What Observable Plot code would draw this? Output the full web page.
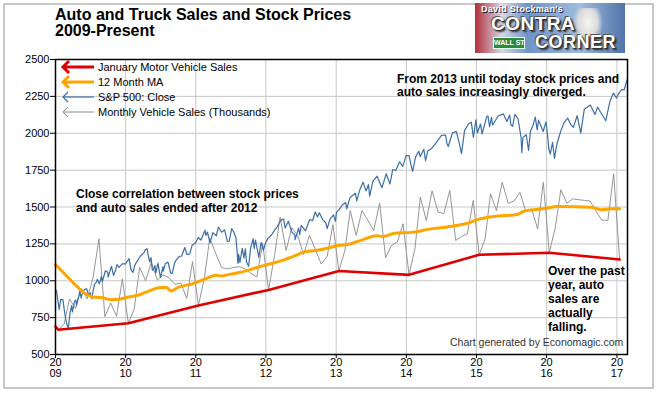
<!DOCTYPE html>
<html>
<head>
<meta charset="utf-8">
<script src="https://cdn.jsdelivr.net/npm/d3@7"></script>
<script src="https://cdn.jsdelivr.net/npm/@observablehq/plot@0.6"></script>
<style>
  html, body { margin: 0; padding: 0; background: #fff; }
  #wrap { position: relative; width: 657px; height: 393px; overflow: hidden; font-family: Arial, "Liberation Sans", sans-serif; }
  #border { position: absolute; left: 3px; top: 3px; width: 647px; height: 382px; border: 2px solid #c8c8c8; }
  #chart { position: absolute; left: 0; top: 0; }
  .abs { position: absolute; white-space: nowrap; }
  #title { left: 55px; top: 7px; font-weight: bold; font-size: 16px; line-height: 16px; color: #000; }
  .note { font-weight: bold; font-size: 12px; color: #000; }
  #logo { left: 475px; top: 3px; width: 150px; height: 50px; overflow: hidden;
          background: linear-gradient(90deg, #b0303a 0%, #d8d8e8 18%, #6f93c8 35%, #9fbce0 70%, #4f74a8 100%); }
  .big { font-weight: 900; color: #fff; text-shadow: 1px 1px 0 #333, -1px -1px 0 #555, 2px 2px 2px #222; letter-spacing: 0.5px; }
</style>
</head>
<body>
<div id="wrap">
  <div id="border"></div>
  <div id="chart"></div>
  <div id="title" class="abs">Auto and Truck Sales and Stock Prices<br>2009-Present</div>
  <div id="logo" class="abs">
    <div class="abs" style="left:98px;top:5px;width:30px;height:36px;background:radial-gradient(ellipse at 50% 40%, #f4f4f4 0%, #dcdcdc 45%, rgba(220,220,230,0) 70%);"></div>
    <div class="abs" style="left:6px;top:1px;font-size:9px;line-height:10px;font-weight:bold;color:#fff;text-shadow:1px 1px 0 #223;letter-spacing:0.3px;">David Stockman's</div>
    <div class="abs big" style="left:16px;top:12px;font-size:19px;line-height:18px;">CONTRA</div>
    <div class="abs" style="left:18px;top:34px;width:30px;height:10px;background:#2f8a3c;border:1px solid #dfe;color:#fff;font-size:7px;font-weight:bold;line-height:10px;text-align:center;">WALL ST</div>
    <div class="abs big" style="left:60px;top:31px;font-size:18px;line-height:17px;">CORNER</div>
  </div>
  <svg class="abs" id="legend" style="left:0;top:0;" width="657" height="393"></svg>
  <div class="abs" style="left:98px;top:60px;font-size:11px;line-height:15px;color:#000;">January Motor Vehicle Sales<br>12 Month MA<br>S&amp;P 500: Close<br>Monthly Vehicle Sales (Thousands)</div>
  <div class="abs note" style="left:397px;top:73px;line-height:13px;">From 2013 until today stock prices and<br>auto sales increasingly diverged.</div>
  <div class="abs note" style="left:76px;top:187px;line-height:14px;">Close correlation between stock prices<br>and auto sales ended after 2012</div>
  <div class="abs note" style="left:548px;top:264px;line-height:14px;">Over the past<br>year, auto<br>sales are<br>actually<br>falling.</div>
  <div class="abs" style="left:450px;top:336px;font-size:10.5px;line-height:12px;color:#333;">Chart generated by Economagic.com</div>
</div>
<script>
// ---- DATA ----
const yTicks = [500, 750, 1000, 1250, 1500, 1750, 2000, 2250, 2500];
const tickYears = [2009, 2010, 2011, 2012, 2013, 2014, 2015, 2016, 2017];

// S&P 500 close (sampled)
const spDates = [
"2009-01-02","2009-01-06","2009-01-20","2009-01-28","2009-02-09","2009-02-17","2009-02-23","2009-03-02","2009-03-09","2009-03-17","2009-03-26","2009-03-30","2009-04-09","2009-04-17","2009-04-20","2009-05-08","2009-05-15","2009-05-19","2009-06-01","2009-06-12","2009-06-23","2009-06-30","2009-07-08","2009-07-23","2009-07-31","2009-08-07","2009-08-17","2009-08-28","2009-09-02","2009-09-18","2009-09-30","2009-10-02","2009-10-19","2009-10-30","2009-11-09","2009-11-17","2009-11-27","2009-12-14","2009-12-31",
"2010-01-19","2010-01-29","2010-02-08","2010-02-19","2010-03-05","2010-03-18","2010-04-05","2010-04-14","2010-04-23","2010-04-27","2010-05-06","2010-05-13","2010-05-20","2010-05-25","2010-06-03","2010-06-07","2010-06-18","2010-06-30","2010-07-02","2010-07-14","2010-07-16","2010-07-26","2010-08-09","2010-08-24","2010-08-31","2010-09-13","2010-09-21","2010-10-08","2010-10-19","2010-11-05","2010-11-16","2010-11-30","2010-12-13","2010-12-31",
"2011-01-14","2011-01-28","2011-02-18","2011-02-23","2011-03-03","2011-03-16","2011-03-31","2011-04-18","2011-04-29","2011-05-16","2011-05-31","2011-06-15","2011-06-24","2011-07-07","2011-07-19","2011-07-29","2011-08-04","2011-08-08","2011-08-10","2011-08-12","2011-08-19","2011-08-31","2011-09-09","2011-09-16","2011-09-22","2011-10-03","2011-10-14","2011-10-27","2011-11-01","2011-11-08","2011-11-25","2011-12-07","2011-12-19","2011-12-30",
"2012-01-13","2012-01-31","2012-02-15","2012-02-29","2012-03-15","2012-03-26","2012-04-02","2012-04-10","2012-04-27","2012-05-15","2012-05-31","2012-06-01","2012-06-19","2012-06-25","2012-07-03","2012-07-25","2012-08-16","2012-08-31","2012-09-14","2012-09-26","2012-10-05","2012-10-23","2012-11-07","2012-11-15","2012-11-29","2012-12-18","2012-12-28",
"2013-01-02","2013-01-18","2013-02-01","2013-02-19","2013-02-25","2013-03-14","2013-04-11","2013-04-18","2013-05-03","2013-05-21","2013-06-05","2013-06-18","2013-06-24","2013-07-11","2013-08-02","2013-08-27","2013-09-18","2013-10-08","2013-10-22","2013-11-07","2013-11-27","2013-12-13","2013-12-31",
"2014-01-15","2014-01-24","2014-02-03","2014-02-18","2014-03-07","2014-03-14","2014-04-02","2014-04-11","2014-04-22","2014-05-13","2014-05-30","2014-06-20","2014-07-03","2014-07-24","2014-07-31","2014-08-07","2014-08-29","2014-09-18","2014-10-01","2014-10-15","2014-10-31","2014-11-21","2014-12-05","2014-12-16","2014-12-29",
"2015-01-06","2015-01-22","2015-01-30","2015-02-24","2015-03-02","2015-03-10","2015-03-20","2015-03-26","2015-04-24","2015-05-21","2015-06-08","2015-06-23","2015-06-29","2015-07-08","2015-07-20","2015-08-05","2015-08-21","2015-08-25","2015-08-31","2015-09-17","2015-09-29","2015-10-09","2015-10-22","2015-11-03","2015-11-13","2015-11-20","2015-12-14","2015-12-29",
"2016-01-04","2016-01-13","2016-01-20","2016-02-01","2016-02-11","2016-02-24","2016-03-15","2016-04-01","2016-04-20","2016-05-06","2016-05-19","2016-06-08","2016-06-27","2016-07-15","2016-08-15","2016-09-09","2016-09-22","2016-10-13","2016-11-04","2016-11-25","2016-12-13","2016-12-30",
"2017-01-10","2017-01-26","2017-02-07","2017-02-23"];
const spClose = [
931,935,805,874,870,789,743,700,677,778,832,788,857,870,832,929,882,908,942,946,895,919,879,977,987,1010,979,1029,995,1068,1057,1025,1097,1036,1069,1110,1091,1114,1115,
1150,1074,1056,1109,1139,1166,1187,1211,1217,1183,1128,1157,1071,1074,1103,1051,1118,1031,1022,1095,1065,1115,1127,1051,1049,1121,1140,1166,1166,1225,1178,1180,1240,1258,
1293,1276,1343,1307,1330,1257,1326,1305,1364,1329,1345,1266,1268,1354,1327,1292,1200,1119,1121,1179,1124,1219,1154,1216,1129,1099,1225,1285,1218,1276,1159,1261,1206,1258,
1289,1312,1343,1366,1402,1416,1419,1358,1403,1330,1310,1278,1357,1313,1375,1338,1415,1407,1466,1433,1461,1413,1395,1353,1416,1447,1402,
1462,1486,1513,1530,1488,1564,1593,1541,1614,1669,1609,1652,1573,1675,1709,1630,1725,1656,1754,1748,1807,1775,1848,
1848,1790,1742,1840,1878,1841,1891,1815,1879,1897,1924,1963,1985,1988,1931,1910,2003,2011,1946,1862,2018,2064,2075,1972,2091,
2003,2063,1995,2115,2117,2044,2108,2056,2117,2131,2080,2124,2058,2047,2128,2100,1971,1868,1972,1990,1884,2014,2052,2109,2023,2089,2012,2078,
2012,1890,1859,1939,1829,1929,2016,2072,2102,2057,2040,2119,2001,2162,2191,2128,2177,2132,2085,2213,2272,2239,
2269,2297,2293,2364];

// Monthly vehicle sales (thousands), Jan 2009 .. Jan 2017 (first entry = start of line)
const salesStart = ["2009-01-01", 690];
const sales2009 = [668, 705, 877, 812, 950, 877, 1017, 1284, 757, 848, 760, 1013];
const sales2010 = [712, 810, 1090, 1000, 1125, 1005, 1040, 1020, 975, 985, 880, 1130];
const sales2011 = [832, 1020, 1290, 1185, 1090, 1080, 1090, 1095, 1080, 1050, 1025, 1255];
const sales2012 = [938, 1172, 1432, 1205, 1360, 1305, 1178, 1308, 1211, 1113, 1165, 1380];
const sales2013 = [1066, 1205, 1476, 1307, 1476, 1410, 1340, 1526, 1155, 1239, 1262, 1386];
const sales2014 = [1040, 1220, 1567, 1408, 1610, 1465, 1455, 1612, 1273, 1300, 1320, 1544];
const sales2015 = [1176, 1284, 1590, 1476, 1668, 1526, 1540, 1600, 1470, 1487, 1352, 1668];
const sales2016 = [1190, 1360, 1617, 1526, 1555, 1550, 1545, 1540, 1470, 1410, 1410, 1725];
const sales2017 = [1144];

// January sales (red)
const janYears = [2009, 2010, 2011, 2012, 2013, 2014, 2015, 2016, 2017];
const janSales = [668, 712, 832, 938, 1066, 1040, 1176, 1190, 1144];

// 12 month moving average
const maDates = ["2009-01-01","2009-04-01","2009-06-01","2009-07-15","2009-09-01","2009-10-15","2009-12-01","2010-01-15","2010-03-15","2010-05-01","2010-07-01","2010-08-01","2010-08-25","2010-10-01","2010-12-15","2011-02-15","2011-04-15","2011-05-15","2011-07-01","2011-09-01","2011-11-15","2012-01-15","2012-04-01","2012-06-01","2012-07-15","2012-09-15","2012-11-15","2013-01-15","2013-03-01","2013-05-01","2013-08-01","2013-09-01","2013-11-01","2014-02-01","2014-05-01","2014-08-01","2014-11-15","2015-01-15","2015-04-01","2015-08-01","2015-09-01","2015-12-15","2016-03-01","2016-08-15","2016-10-15","2016-12-01","2017-01-15"];
const maValues = [1110,990,915,890,885,872,875,890,905,930,955,955,930,955,980,1010,1038,1032,1045,1060,1090,1112,1140,1170,1194,1205,1220,1240,1246,1270,1305,1300,1322,1328,1350,1365,1390,1418,1436,1449,1470,1488,1503,1499,1481,1488,1488];

// ---- BUILD TABLES ----
const sp = spDates.map((d, i) => ({date: new Date(d), value: spClose[i]}));
const allYears = [sales2009, sales2010, sales2011, sales2012, sales2013, sales2014, sales2015, sales2016, sales2017];
const sales = [{date: new Date(salesStart[0]), value: salesStart[1]}];
allYears.forEach((arr, yi) => arr.forEach((v, m) => sales.push({date: new Date(Date.UTC(2009 + yi, m, 15)), value: v})));
const jan = [{date: new Date(salesStart[0]), value: salesStart[1]}].concat(
  janYears.map((y, i) => ({date: new Date(Date.UTC(y, 0, 15)), value: janSales[i]})));
const ma = maDates.map((d, i) => ({date: new Date(d), value: maValues[i]}));
const yearTicks = tickYears.map(y => new Date(Date.UTC(y, 0, 1)));

const chart = Plot.plot({
  width: 657, height: 393,
  marginLeft: 55, marginRight: 30, marginTop: 59, marginBottom: 39,
  x: {type: "utc", domain: [new Date("2009-01-01"), new Date("2017-02-25")]},
  y: {domain: [500, 2500]},
  style: {fontFamily: "Arial, 'Liberation Sans', sans-serif", fontSize: "11px", background: "transparent", color: "#000", overflow: "visible"},
  marks: [
    Plot.gridX(yearTicks, {stroke: "#c8c8c8", strokeOpacity: 1}),
    Plot.gridY(yTicks, {stroke: "#c8c8c8", strokeOpacity: 1}),
    Plot.line(sales, {x: "date", y: "value", stroke: "#8a8a8a", strokeWidth: 0.9}),
    Plot.line(sp, {x: "date", y: "value", stroke: "#3b6fa8", strokeWidth: 1.2}),
    Plot.line(ma, {x: "date", y: "value", stroke: "#ffa500", strokeWidth: 3, curve: "monotone-x"}),
    Plot.line(jan, {x: "date", y: "value", stroke: "#e00000", strokeWidth: 2.6}),
    Plot.frame({stroke: "#000", strokeWidth: 1.5}),
    Plot.axisY(yTicks, {tickSize: 5, tickPadding: 1, stroke: "#000", fontSize: 11, label: null, tickFormat: d => String(d)}),
    Plot.axisX(yearTicks, {tickSize: 4, tickPadding: 0, stroke: "#000", fontSize: 11, lineHeight: 1,
      tickFormat: d => "20\n" + String(d.getUTCFullYear()).slice(2), label: null})
  ]
});
document.getElementById("chart").appendChild(chart);

// Legend arrows
const lg = d3.select("#legend");
const items = [
  {y: 67, c: "#e00000", w: 3, h: 6},
  {y: 82, c: "#ffa500", w: 3, h: 6},
  {y: 97, c: "#3b6fa8", w: 1.2, h: 5},
  {y: 112, c: "#8a8a8a", w: 1, h: 5}
];
items.forEach(it => {
  lg.append("line").attr("x1", 63).attr("x2", 94).attr("y1", it.y).attr("y2", it.y)
    .attr("stroke", it.c).attr("stroke-width", it.w);
  lg.append("polyline").attr("points", `${63 + it.h},${it.y - it.h} 63,${it.y} ${63 + it.h},${it.y + it.h}`)
    .attr("fill", "none").attr("stroke", it.c).attr("stroke-width", it.w);
});
</script>
</body>
</html>
